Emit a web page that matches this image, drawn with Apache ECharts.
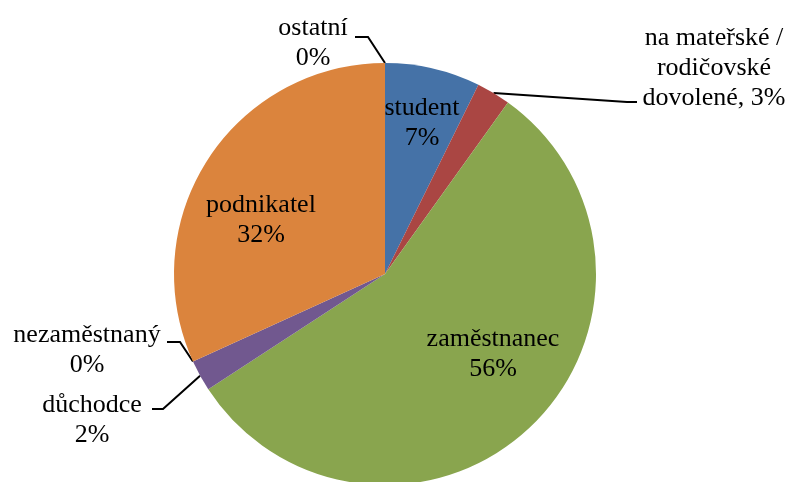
<!DOCTYPE html>
<html>
<head>
<meta charset="utf-8">
<script src="https://cdn.jsdelivr.net/npm/echarts@6/dist/echarts.min.js"></script>
<style>
  html, body { margin: 0; padding: 0; background: #fff; }
  #chart { width: 790px; height: 482px; }
</style>
</head>
<body>
<div id="chart"></div>
<script>
// slice names, clockwise from 12 o'clock
const categories = ['student', 'na mateřské /\nrodičovské\ndovolené', 'zaměstnanec', 'důchodce', 'nezaměstnaný', 'podnikatel', 'ostatní']
const shares = [7.3, 2.6, 55.9, 2.4, 0, 31.8, 0]
const colors = ['#4572A7', '#AA4643', '#89A54E', '#71588F', '#4198AF', '#DB843D', '#93A9CF']
// which labels sit outside with a leader line
const outside = [false, true, false, true, true, false, true]

// label block centres + leader elbows (px)
const labelPos = [
  { x: 422, y: 123 },
  { x: 714, y: 68, elbow: [[627, 102], [637, 102]] },
  { x: 493, y: 354 },
  { x: 92, y: 420, elbow: [[163, 409], [152, 409]] },
  { x: 87, y: 350, elbow: [[180, 342], [167, 342]] },
  { x: 261, y: 220 },
  { x: 313, y: 43, elbow: [[368, 37], [355, 37]] },
]

const chart = echarts.init(document.getElementById('chart'), null, { renderer: 'canvas' })

const seriesData = categories.map((name, i) => ({
  name,
  value: shares[i],
  itemStyle: { color: colors[i] },
  label: { position: outside[i] ? 'outside' : 'inside' },
  labelLine: { show: outside[i] },
}))

chart.setOption({
  animation: false,
  series: [{
    type: 'pie',
    center: [385, 274],
    radius: 211,
    startAngle: 90,
    clockwise: true,
    avoidLabelOverlap: false,
    minShowLabelAngle: 0,
    percentPrecision: 1,
    data: seriesData,
    label: {
      show: true,
      color: '#000',
      fontFamily: 'Liberation Serif',
      fontSize: 26,
      lineHeight: 30,
      align: 'center',
      formatter: (p) => {
        const pct = Math.round(p.percent) + '%'
        return p.name.indexOf('\n') >= 0 ? p.name + ', ' + pct : p.name + '\n' + pct
      },
    },
    labelLine: {
      length: 10,
      length2: 10,
      lineStyle: { color: '#000', width: 2 },
    },
    labelLayout: (params) => {
      const pos = labelPos[params.dataIndex]
      const res = { x: pos.x, y: pos.y, align: 'center', verticalAlign: 'middle' }
      if (pos.elbow && params.labelLinePoints) {
        res.labelLinePoints = [params.labelLinePoints[0]].concat(pos.elbow)
      }
      return res
    },
  }],
})
</script>
</body>
</html>
